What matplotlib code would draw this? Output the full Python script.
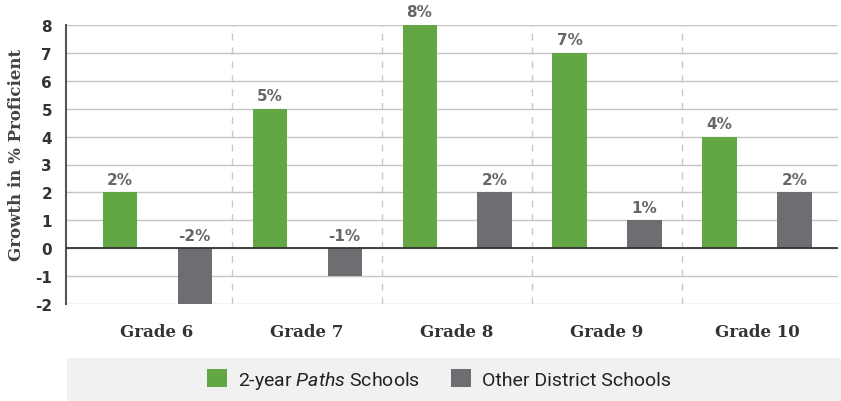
import matplotlib
matplotlib.use("Agg")
import matplotlib.pyplot as plt
import numpy as np
from matplotlib.patches import Rectangle, Patch

# data
grades = ["Grade 6", "Grade 7", "Grade 8", "Grade 9", "Grade 10"]
paths_vals = [2, 5, 8, 7, 4]
other_vals = [-2, -1, 2, 1, 2]
series_names = ["2-year $\\it{Paths}$ Schools", "Other District Schools"]

GREEN = '#62a744'
GRAY = '#6d6e71'
LABEL_COLOR = '#666666'
TEXT_COLOR = '#333333'

plt.rcParams['mathtext.fontset'] = 'custom'
plt.rcParams['mathtext.it'] = 'Roboto:italic'
plt.rcParams['mathtext.rm'] = 'Roboto'
plt.rcParams['axes.unicode_minus'] = False

fig = plt.figure(figsize=(8.41, 4.02), dpi=100)
ax = fig.add_axes([66/841, 97/402, (838-66)/841, (305-26)/402])

x = np.arange(len(grades))
w = 0.227
off = 0.25
ax.bar(x - off, paths_vals, w, color=GREEN, zorder=3)
ax.bar(x + off, other_vals, w, color=GRAY, zorder=3)

# value labels, always above the zero line
for xs, vals in ((x - off, paths_vals), (x + off, other_vals)):
    for xi, v in zip(xs, vals):
        ax.annotate("%d%%" % v, (xi, max(v, 0)), xytext=(0, 4),
                    textcoords='offset points', ha='center', va='bottom',
                    fontsize=11, fontweight='bold', color=LABEL_COLOR,
                    family='DejaVu Sans', clip_on=False)

ax.set_xlim(-0.607, 4.54)
ax.set_ylim(-2, 8)
ax.set_yticks(range(-2, 9))
ax.yaxis.grid(True, color='#c4c4c4', linewidth=1.0, zorder=0)
ax.set_axisbelow(True)
ax.axhline(0, color='#333333', linewidth=1.3, zorder=4)
for s in [0.5, 1.5, 2.5, 3.5]:
    ax.axvline(s, color='#c8c8c8', linewidth=1.0, linestyle=(0, (5, 5)), zorder=1)

for sp in ['top', 'right', 'bottom']:
    ax.spines[sp].set_visible(False)
ax.spines['left'].set_color('#555555')
ax.spines['left'].set_linewidth(1.5)

ax.set_xticks(x)
ax.set_xticklabels(grades, family='DejaVu Serif', fontsize=12, fontweight='bold',
                   color=TEXT_COLOR)
ax.tick_params(axis='x', length=0, pad=14)
ax.tick_params(axis='y', length=0, pad=10, labelsize=11, labelcolor=TEXT_COLOR)
for t in ax.get_yticklabels():
    t.set_fontweight('bold')
fig.text(17/841, (402-155)/402, "Growth in % Proficient", rotation=90,
         ha='center', va='center', family='DejaVu Serif', fontsize=12,
         fontweight='bold', color='#444444')

# legend band at the bottom
fig.patches.append(Rectangle((67/841, 0), 1 - 67/841, 43/402, transform=fig.transFigure,
                             facecolor='#f1f1f1', edgecolor='none', zorder=0))
handles = [Patch(facecolor=GREEN), Patch(facecolor=GRAY)]
fig.legend(handles, series_names, loc='center', bbox_to_anchor=(439/841, 21/402),
           ncol=2, frameon=False, prop={'family': 'Roboto', 'size': 14},
           handlelength=1.05, handleheight=1.05, handletextpad=0.55, columnspacing=1.6,
           labelcolor='#222222')

fig.savefig("out.png", dpi=100)
